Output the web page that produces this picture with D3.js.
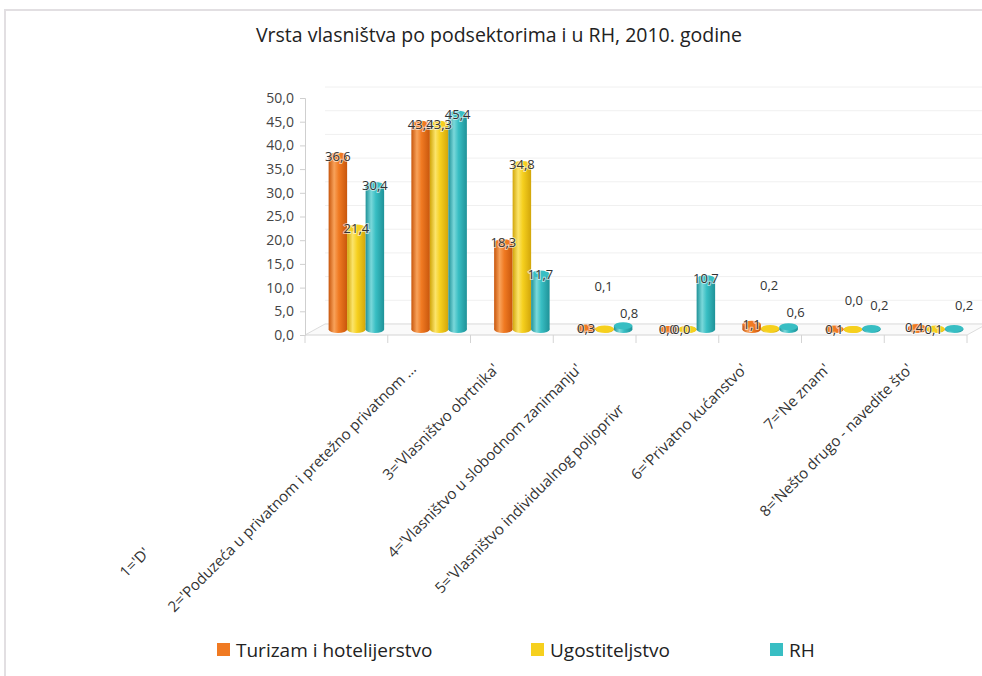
<!DOCTYPE html>
<html>
<head>
<meta charset="utf-8">
<script src="https://cdn.jsdelivr.net/npm/d3@7"></script>
<style>
  body { margin: 0; background: #fff; }
  text { font-family: "Open Sans", sans-serif; }
</style>
</head>
<body>
<svg id="chart"></svg>
<script>
const categories = [
    "1='D'",
    "2='Poduzeća u privatnom i pretežno privatnom ...",
    "3='Vlasništvo obrtnika'",
    "4='Vlasništvo u slobodnom zanimanju'",
    "5='Vlasništvo individualnog poljoprivr",
    "6='Privatno kućanstvo'",
    "7='Ne znam'",
    "8='Nešto drugo - navedite što'"
];
const seriesNames = ['Turizam i hotelijerstvo', 'Ugostiteljstvo', 'RH'];
const turizam = [36.6, 43.3, 18.3, 0.3, 0.0, 1.1, 0.1, 0.4];
const ugostiteljstvo = [21.4, 43.3, 34.8, 0.1, 0.0, 0.2, 0.0, 0.1];
const rh = [30.4, 45.4, 11.7, 0.8, 10.7, 0.6, 0.2, 0.2];
const yTicks = [0, 5, 10, 15, 20, 25, 30, 35, 40, 45, 50];
const title = 'Vrsta vlasništva po podsektorima i u RH, 2010. godine';

const W = 982, H = 676;
const svg = d3.select('#chart').attr('width', W).attr('height', H);

const colors = ['#f07a22', '#f6d01e', '#38bec3'];
const dark = ['#c8560c', '#d2a60a', '#1f9298'];
const light = ['#f8a25a', '#fbe46a', '#7ad8da'];

const values = [turizam, ugostiteljstvo, rh];

// depth of the fake 3d floor
const depth = { x: 20, y: -11 };

const x = d3.scaleBand()
    .domain(categories)
    .range([305, 967])
    .padding(0);

const y = d3.scaleLinear()
    .domain([0, 50])
    .range([335, 98]);

const barW = 18.5;
const xs = d3.scaleBand()
    .domain(d3.range(seriesNames.length))
    .range([0, barW * seriesNames.length]);

// gradients for the cylinders
const defs = svg.append('defs');
colors.forEach((c, i) => {
    const g = defs.append('linearGradient')
        .attr('id', 'grad' + i)
        .attr('x1', '0%').attr('x2', '100%');
    g.append('stop').attr('offset', '0%').attr('stop-color', dark[i]);
    g.append('stop').attr('offset', '30%').attr('stop-color', light[i]);
    g.append('stop').attr('offset', '55%').attr('stop-color', c);
    g.append('stop').attr('offset', '100%').attr('stop-color', dark[i]);
});

// frame
svg.append('path')
    .attr('d', `M5,${H} L5,10 L${W},10`)
    .attr('fill', 'none')
    .attr('stroke', '#e2dfe2')
    .attr('stroke-width', 2);

svg.append('text')
    .attr('x', 499)
    .attr('y', 42)
    .attr('text-anchor', 'middle')
    .style('font-size', '19.5px')
    .style('fill', '#222')
    .text(title);

// back grid lines
svg.append('g')
    .selectAll('line')
    .data(yTicks)
    .enter().append('line')
    .attr('x1', 305 + depth.x)
    .attr('x2', 967 + depth.x)
    .attr('y1', d => y(d) + depth.y)
    .attr('y2', d => y(d) + depth.y)
    .attr('stroke', '#f0f0f0');

// floor
svg.append('path')
    .attr('d', `M305,${y(0)} L${305 + depth.x},${y(0) + depth.y} L${967 + depth.x},${y(0) + depth.y} L967,${y(0)}`)
    .attr('fill', '#fafafa')
    .attr('stroke', '#dcdcdc');

// y axis
const yAxis = d3.axisLeft(y)
    .tickValues(yTicks)
    .tickSize(5)
    .tickFormat(d => d3.format('.1f')(d).replace('.', ','));

const yg = svg.append('g')
    .attr('transform', 'translate(305,0)')
    .call(yAxis);
yg.select('.domain').attr('stroke', '#cfcfcf');
yg.selectAll('.tick line').attr('stroke', '#cfcfcf');
yg.selectAll('text')
    .attr('x', -11)
    .style('font-size', '14px')
    .style('font-family', '"Open Sans", sans-serif')
    .style('fill', '#444');

// x axis line + band edge ticks
const xg = svg.append('g');
xg.append('line')
    .attr('x1', 305).attr('x2', 967)
    .attr('y1', y(0)).attr('y2', y(0))
    .attr('stroke', '#d4d4d4');
xg.selectAll('.edge')
    .data(categories.map(c => x(c)).concat([x.range()[1]]))
    .enter().append('line')
    .attr('class', 'edge')
    .attr('x1', d => d).attr('x2', d => d)
    .attr('y1', y(0)).attr('y2', y(0) + 8)
    .attr('stroke', '#d4d4d4');

// some labels in the original are cut / pushed along their direction
const labelShift = { 0: -260, 4: -57 };
xg.selectAll('.cat')
    .data(categories)
    .enter().append('text')
    .attr('class', 'cat')
    .attr('transform', d => `translate(${x(d) + x.bandwidth() / 2 - 12},370) rotate(-45)`)
    .attr('dx', (d, i) => labelShift[i] || 0)
    .attr('text-anchor', 'end')
    .style('font-size', '15px')
    .style('fill', '#333')
    .text(d => d);

// bars as cylinders
const barBase = y(0) + depth.y / 2;
const ry = 3.5;
const rows = [];
categories.forEach((c, i) => {
    values.forEach((arr, s) => {
        rows.push({ cat: c, i: i, s: s, v: arr[i] });
    });
});

const barX = d => x(d.cat) + (x.bandwidth() - xs.range()[1]) / 2 + depth.x / 2 + xs(d.s);
const barTop = d => y(d.v) + depth.y / 2;

const bars = svg.append('g')
    .selectAll('g')
    .data(rows)
    .enter().append('g');

bars.append('rect')
    .attr('x', d => barX(d))
    .attr('y', d => barTop(d))
    .attr('width', barW)
    .attr('height', d => Math.max(0, barBase - barTop(d)))
    .attr('fill', d => `url(#grad${d.s})`);

bars.append('ellipse')
    .attr('cx', d => barX(d) + barW / 2)
    .attr('cy', barBase)
    .attr('rx', barW / 2)
    .attr('ry', ry)
    .attr('fill', d => `url(#grad${d.s})`);

bars.append('ellipse')
    .attr('cx', d => barX(d) + barW / 2)
    .attr('cy', d => barTop(d))
    .attr('rx', barW / 2)
    .attr('ry', ry)
    .attr('fill', d => colors[d.s]);

// value labels; small ones were pushed up in the original to avoid overlap
const nudge = {
    '3-1': [-1, 43], '3-2': [6, 12],
    '5-1': [-1, 43], '5-2': [7, 14],
    '6-1': [1, 29], '6-2': [8, 23],
    '7-0': [-3, 0], '7-1': [-2, 0], '7-2': [10, 23],
    '4-0': [-1, 0], '4-1': [-6, 0]
};
const fmt = d => d3.format('.1f')(d).replace('.', ',');

svg.append('g')
    .selectAll('text')
    .data(rows)
    .enter().append('text')
    .attr('x', d => barX(d) + barW / 2 + (nudge[d.i + '-' + d.s] || [0, 0])[0])
    .attr('y', d => barTop(d) - (nudge[d.i + '-' + d.s] || [0, 0])[1])
    .attr('dy', '0.35em')
    .attr('text-anchor', 'middle')
    .style('font-size', '13px')
    .style('fill', '#333')
    .style('paint-order', 'stroke')
    .style('stroke', 'rgba(255,255,255,0.6)')
    .style('stroke-width', 2)
    .text(d => fmt(d.v));

// legend
const legendX = [217, 531, 770];
const legend = svg.append('g')
    .selectAll('g')
    .data(seriesNames)
    .enter().append('g')
    .attr('transform', (d, i) => `translate(${legendX[i]},643)`);

legend.append('rect')
    .attr('width', 13)
    .attr('height', 13)
    .attr('fill', (d, i) => colors[i]);

legend.append('text')
    .attr('x', 19)
    .attr('y', 14)
    .style('font-size', '19px')
    .style('fill', '#222')
    .text(d => d);
</script>
</body>
</html>
